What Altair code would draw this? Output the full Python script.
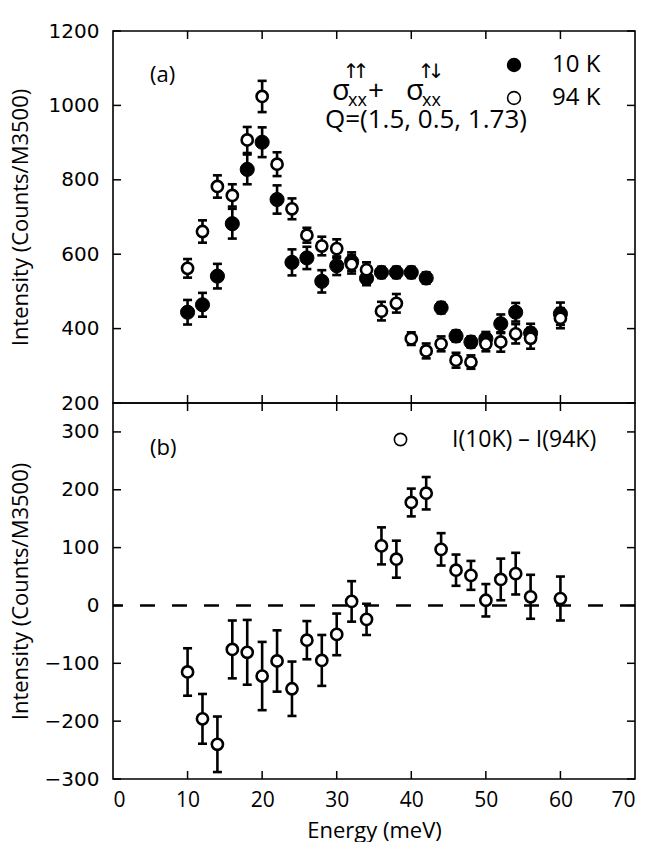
import altair as alt
import pandas as pd

# ---------------- data ----------------
energy = [10, 12, 14, 16, 18, 20, 22, 24, 26, 28, 30, 32, 34, 36, 38, 40, 42, 44, 46, 48, 50, 52, 54, 56, 60]
int_10k = [444, 464, 541, 682, 828, 901, 747, 578, 590, 527, 569, 580, 535, 551, 551, 551, 536, 456, 380, 364, 373, 413, 444, 388, 440]
err_10k = [33, 32, 33, 40, 40, 40, 38, 35, 30, 30, 25, 25, 18, 15, 15, 15, 15, 15, 15, 15, 18, 25, 25, 25, 30]
int_94k = [562, 661, 782, 758, 907, 1024, 842, 722, 651, 622, 615, 573, 558, 447, 468, 373, 340, 359, 315, 310, 359, 364, 386, 374, 428]
err_94k = [25, 30, 30, 30, 35, 42, 32, 28, 20, 25, 25, 25, 20, 25, 25, 17, 20, 20, 20, 18, 20, 26, 26, 28, 27]
diff = [-115, -196, -240, -76, -81, -122, -96, -144, -60, -95, -50, 7, -24, 103, 80, 178, 194, 97, 61, 52, 9, 45, 55, 15, 12]
diff_err = [41, 43, 48, 50, 56, 59, 53, 47, 33, 44, 36, 35, 27, 32, 32, 24, 28, 28, 27, 25, 28, 36, 36, 38, 38]

series_names = ["10 K", "94 K"]
diff_name = "I(10K) \u2013 I(94K)"
x_ticks = [0, 10, 20, 30, 40, 50, 60, 70]
x_inner_ticks = [10, 20, 30, 40, 50, 60]
top_y_ticks = [200, 400, 600, 800, 1000, 1200]
bot_y_ticks = [-300, -200, -100, 0, 100, 200, 300]
zero_line = [0]

W, H1, H2 = 522, 372, 376
TICK = 8

xscale = alt.Scale(domain=[0, 70], nice=False, zero=False)
yscale1 = alt.Scale(domain=[200, 1200], nice=False, zero=False)
yscale2 = alt.Scale(domain=[-300, 350], nice=False, zero=False)

yaxis_common = dict(tickSize=0, domain=False, grid=False, labelFont="DejaVu Sans", labelFontSize=20,
                    labelPadding=14, labelColor="black", title="Intensity (Counts/M3500)", format="d",
                    titleFont="Open Sans", titleFontSize=22, titleFontWeight="normal", titleColor="black",
                    titleX=-81, labelOverlap=False)
yaxis_top = alt.Axis(values=top_y_ticks, titleY=H1 / 2, **yaxis_common)
yaxis_bot = alt.Axis(values=bot_y_ticks, titleY=H2 / 2, **yaxis_common)
xaxis_bot = alt.Axis(values=x_ticks, tickSize=0, domain=False, grid=False, labelFont="Open Sans",
                     labelFontSize=21, labelPadding=10, labelColor="black", title="Energy (meV)",
                     titleFont="Open Sans", titleFontSize=22, titleFontWeight="normal",
                     titleColor="black", titlePadding=10)


def frame_ticks(yvals, yscale, yaxis, xaxis, H):
    xt = alt.Chart(pd.DataFrame({"E": x_inner_ticks}))
    yt = alt.Chart(pd.DataFrame({"I": yvals}))
    xe = alt.X("E:Q", scale=xscale, axis=xaxis)
    ye = alt.Y("I:Q", scale=yscale, axis=yaxis)
    rs = dict(color="black", strokeWidth=1.5)
    return [
        xt.mark_rule(**rs).encode(x=xe, y=alt.value(H - TICK), y2=alt.value(H)),
        xt.mark_rule(**rs).encode(x=xe, y=alt.value(0), y2=alt.value(TICK)),
        yt.mark_rule(**rs).encode(y=ye, x=alt.value(0), x2=alt.value(TICK)),
        yt.mark_rule(**rs).encode(y=ye, x=alt.value(W - TICK), x2=alt.value(W)),
    ]


def errbars(df, yscale, yaxis, xaxis):
    xe = alt.X("E:Q", scale=xscale, axis=xaxis)
    tk = dict(orient="horizontal", size=9, thickness=2.6, color="black", opacity=1)
    rule = alt.Chart(df).mark_rule(color="black", strokeWidth=2.6).encode(
        x=xe, y=alt.Y("lo:Q", scale=yscale, axis=yaxis), y2="hi:Q")
    cap_lo = alt.Chart(df).mark_tick(**tk).encode(x=xe, y=alt.Y("lo:Q", scale=yscale, axis=yaxis))
    cap_hi = alt.Chart(df).mark_tick(**tk).encode(x=xe, y=alt.Y("hi:Q", scale=yscale, axis=yaxis))
    return [rule, cap_lo, cap_hi]


df10 = pd.DataFrame({"E": energy, "I": int_10k,
                     "lo": [a - b for a, b in zip(int_10k, err_10k)],
                     "hi": [a + b for a, b in zip(int_10k, err_10k)],
                     "T": series_names[0]})
df94 = pd.DataFrame({"E": energy, "I": int_94k,
                     "lo": [a - b for a, b in zip(int_94k, err_94k)],
                     "hi": [a + b for a, b in zip(int_94k, err_94k)],
                     "T": series_names[1]})
dfd = pd.DataFrame({"E": energy, "I": diff,
                    "lo": [a - b for a, b in zip(diff, diff_err)],
                    "hi": [a + b for a, b in zip(diff, diff_err)],
                    "L": diff_name})

legend_top = alt.Legend(orient="none", legendX=389, legendY=22, title=None, labelFont="Open Sans",
                        labelFontSize=24, labelColor="black", symbolType="circle", symbolSize=165,
                        symbolStrokeColor="black", symbolStrokeWidth=1.6, labelOffset=26,
                        rowPadding=9, padding=0)
fill_top = alt.Fill("T:N", scale=alt.Scale(domain=series_names, range=["black", "white"]), legend=legend_top)

pts10 = alt.Chart(df10).mark_point(shape="circle", filled=True, opacity=1, stroke="black", strokeWidth=1,
                                   size=200).encode(
    x=alt.X("E:Q", scale=xscale, axis=None),
    y=alt.Y("I:Q", scale=yscale1, axis=yaxis_top),
    fill=fill_top)
pts94 = alt.Chart(df94).mark_point(shape="circle", filled=True, opacity=1, stroke="black", strokeWidth=2.6,
                                   size=125).encode(
    x=alt.X("E:Q", scale=xscale, axis=None),
    y=alt.Y("I:Q", scale=yscale1, axis=yaxis_top),
    fill=fill_top)

txt = dict(font="Open Sans", color="black", align="left", baseline="middle")
arr = dict(font="DejaVu Sans", color="black", align="center", baseline="middle", fontSize=20)
annot_top = [
    alt.Chart().mark_text(text="(a)", fontSize=22, **txt).encode(x=alt.value(37), y=alt.value(44)),
    alt.Chart().mark_text(text="\u03c3", fontSize=29, **txt).encode(x=alt.value(219), y=alt.value(60)),
    alt.Chart().mark_text(text="\u2191", **arr).encode(x=alt.value(238), y=alt.value(41)),
    alt.Chart().mark_text(text="\u2191", **arr).encode(x=alt.value(248), y=alt.value(41)),
    alt.Chart().mark_text(text="xx", fontSize=18, **txt).encode(x=alt.value(235), y=alt.value(70)),
    alt.Chart().mark_text(text="+", fontSize=28, **txt).encode(x=alt.value(255), y=alt.value(61)),
    alt.Chart().mark_text(text="\u03c3", fontSize=29, **txt).encode(x=alt.value(293), y=alt.value(60)),
    alt.Chart().mark_text(text="\u2191", **arr).encode(x=alt.value(313), y=alt.value(41)),
    alt.Chart().mark_text(text="\u2193", **arr).encode(x=alt.value(323), y=alt.value(41)),
    alt.Chart().mark_text(text="xx", fontSize=18, **txt).encode(x=alt.value(309), y=alt.value(70)),
    alt.Chart().mark_text(text="Q=(1.5, 0.5, 1.73)", fontSize=26, **txt).encode(x=alt.value(212), y=alt.value(89)),
]

top = alt.layer(
    *errbars(df10, yscale1, yaxis_top, None), pts10, *errbars(df94, yscale1, yaxis_top, None), pts94,
    *frame_ticks(top_y_ticks, yscale1, yaxis_top, None, H1), *annot_top
).properties(width=W, height=H1)

# bottom panel
legend_bot = alt.Legend(orient="none", legendX=276, legendY=25, title=None, labelFont="Open Sans",
                        labelFontSize=23, labelColor="black", symbolType="circle", symbolSize=150,
                        symbolStrokeColor="black", symbolStrokeWidth=1.6, labelOffset=40, padding=0)
fill_bot = alt.Fill("L:N", scale=alt.Scale(domain=[diff_name], range=["white"]), legend=legend_bot)

zero = alt.Chart(pd.DataFrame({"I": zero_line})).mark_rule(color="black", strokeWidth=2.6,
                                                            strokeDash=[15, 17]).encode(
    y=alt.Y("I:Q", scale=yscale2, axis=yaxis_bot))

ptsd = alt.Chart(dfd).mark_point(shape="circle", filled=True, opacity=1, stroke="black", strokeWidth=2.6,
                                 size=125).encode(
    x=alt.X("E:Q", scale=xscale, axis=xaxis_bot),
    y=alt.Y("I:Q", scale=yscale2, axis=yaxis_bot),
    fill=fill_bot)

annot_bot = [
    alt.Chart().mark_text(text="(b)", fontSize=22, **txt).encode(x=alt.value(37), y=alt.value(45)),
]

bottom = alt.layer(
    zero, *errbars(dfd, yscale2, yaxis_bot, xaxis_bot), ptsd,
    *frame_ticks(bot_y_ticks, yscale2, yaxis_bot, xaxis_bot, H2), *annot_bot
).properties(width=W, height=H2)

chart = alt.vconcat(top, bottom, spacing=0, bounds="flush").resolve_scale(fill="independent").resolve_legend(
    fill="independent").properties(
    padding={"left": 0, "top": 12, "right": 0, "bottom": 0},
    background="white",
).configure_view(stroke="black", strokeWidth=1.6)

chart.save("out.html", embed_options={"renderer": "svg", "actions": False})
